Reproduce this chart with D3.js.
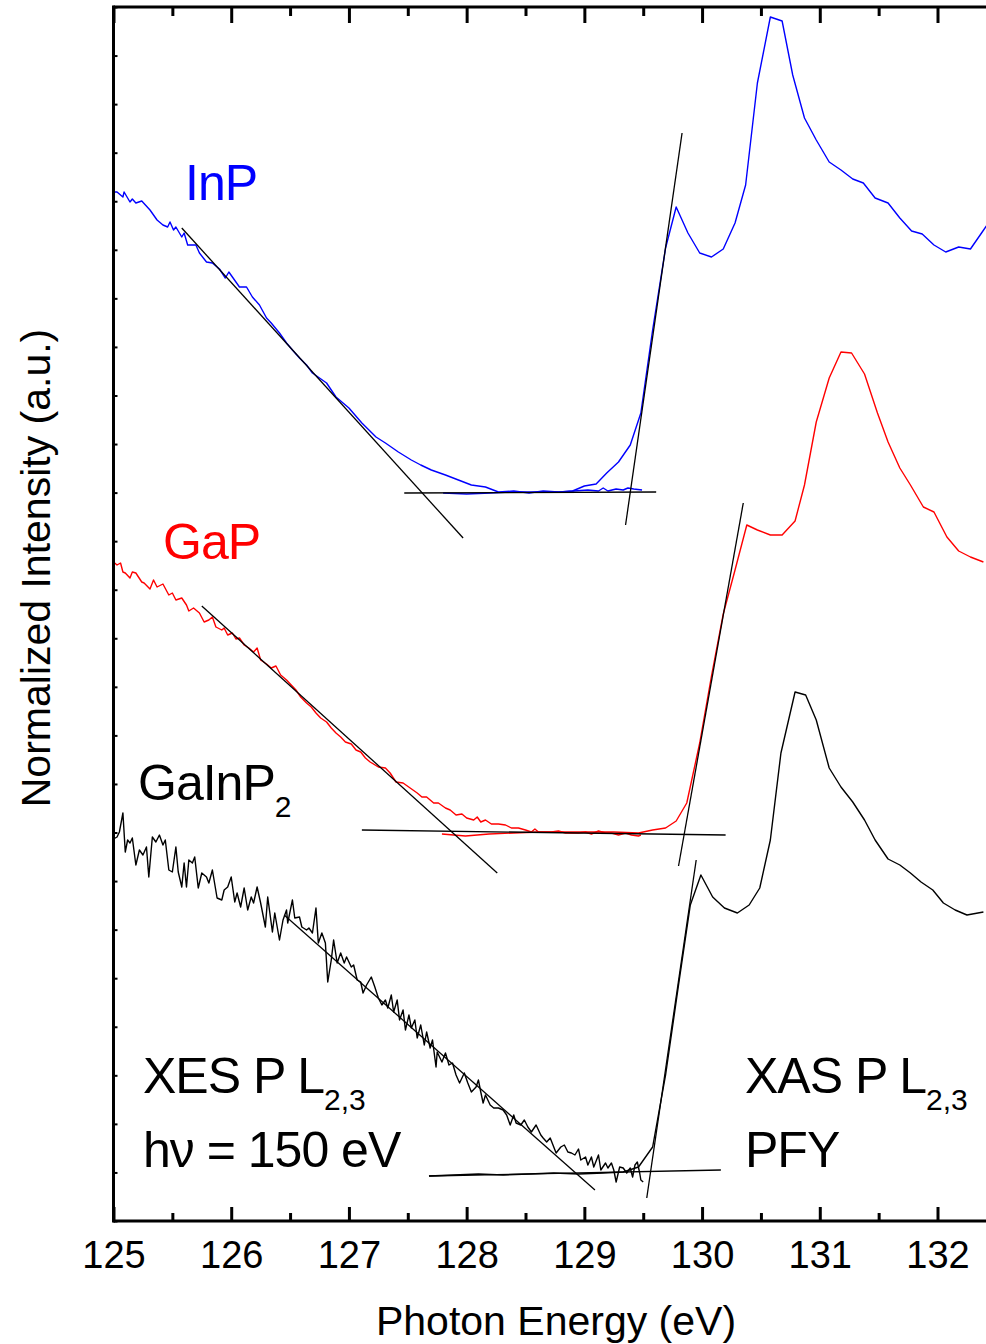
<!DOCTYPE html>
<html>
<head>
<meta charset="utf-8">
<script src="https://cdn.jsdelivr.net/npm/d3@7"></script>
<style>
body { margin: 0; background: #fff; }
text { font-family: "Liberation Sans", Arial, sans-serif; }
</style>
</head>
<body>
<svg width="986" height="1344"></svg>
<script>
// x ticks (eV)
const xMajor = [125, 126, 127, 128, 129, 130, 131, 132]
const xMinor = [125.5, 126.5, 127.5, 128.5, 129.5, 130.5, 131.5, 132.5]
const yMax = 12.14
const yTickCount = 25

// InP, emission (XES) then absorption (XAS PFY)
const inpXes = [
	[125.00,10.29],[125.03,10.29],[125.08,10.24],[125.09,10.29],[125.14,10.19],[125.16,10.22],[125.19,10.18],[125.24,10.20],
	[125.31,10.11],[125.37,10.01],[125.42,9.96],[125.46,9.94],[125.48,9.99],[125.51,9.91],[125.53,9.94],[125.58,9.84],
	[125.60,9.88],[125.63,9.76],[125.70,9.76],[125.73,9.68],[125.79,9.59],[125.84,9.58],[125.90,9.52],[125.95,9.43],
	[125.98,9.49],[126.07,9.34],[126.13,9.34],[126.18,9.24],[126.24,9.16],[126.30,9.03],[126.34,8.98],[126.41,8.88],
	[126.47,8.78],[126.52,8.71],[126.58,8.63],[126.64,8.56],[126.69,8.48],[126.81,8.38],[126.89,8.24],[127.00,8.13],
	[127.11,7.98],[127.17,7.91],[127.23,7.84],[127.31,7.78],[127.42,7.69],[127.53,7.61],[127.61,7.56],[127.70,7.51],
	[127.82,7.46],[127.93,7.41],[128.04,7.36],[128.16,7.34],[128.27,7.29],[128.40,7.30],[128.53,7.28],[128.65,7.30],
	[128.78,7.29],[128.91,7.30],[129.03,7.31],[129.12,7.30],[129.16,7.33],[129.20,7.30],[129.27,7.32],[129.33,7.31],
	[129.37,7.33],[129.42,7.32],[129.49,7.31]
]
const inpXas = [
	[127.80,7.28],[128.00,7.27],[128.20,7.28],[128.40,7.29],[128.60,7.29],[128.80,7.29],[128.90,7.30],[129.00,7.35],
	[129.10,7.37],[129.19,7.48],[129.29,7.59],[129.39,7.76],[129.48,8.08],[129.58,8.91],[129.69,9.73],[129.78,10.14],
	[129.88,9.88],[129.98,9.68],[130.08,9.64],[130.18,9.72],[130.28,9.98],[130.37,10.36],[130.47,11.38],[130.58,12.04],
	[130.68,12.00],[130.77,11.46],[130.87,11.03],[130.97,10.81],[131.08,10.59],[131.18,10.51],[131.28,10.42],[131.37,10.38],
	[131.47,10.23],[131.58,10.18],[131.68,10.03],[131.78,9.90],[131.87,9.87],[131.97,9.76],[132.07,9.69],[132.18,9.74],
	[132.28,9.72],[132.38,9.89],[132.48,10.06]
]
const inpFits = [
	[[125.58,9.93],[127.97,6.83]],
	[[127.47,7.28],[129.61,7.29]],
	[[129.35,6.96],[129.83,10.88]]
]

// GaP
const gapXes = [
	[125.01,6.58],[125.03,6.56],[125.06,6.58],[125.08,6.49],[125.10,6.48],[125.14,6.43],[125.16,6.49],[125.19,6.48],
	[125.24,6.39],[125.26,6.38],[125.31,6.32],[125.34,6.41],[125.37,6.34],[125.42,6.37],[125.47,6.26],[125.50,6.28],
	[125.53,6.21],[125.58,6.23],[125.62,6.16],[125.64,6.10],[125.68,6.13],[125.73,6.08],[125.77,5.99],[125.81,6.01],
	[125.84,6.04],[125.87,5.94],[125.92,5.91],[125.94,5.93],[125.97,5.86],[126.01,5.88],[126.04,5.82],[126.07,5.83],
	[126.11,5.76],[126.15,5.73],[126.19,5.69],[126.22,5.73],[126.25,5.61],[126.30,5.57],[126.34,5.53],[126.38,5.55],
	[126.42,5.46],[126.47,5.41],[126.51,5.36],[126.55,5.31],[126.59,5.24],[126.64,5.18],[126.68,5.14],[126.72,5.08],
	[126.76,5.03],[126.81,4.99],[126.85,4.93],[126.89,4.88],[126.93,4.84],[126.97,4.79],[127.02,4.77],[127.06,4.71],
	[127.10,4.69],[127.14,4.63],[127.18,4.59],[127.25,4.54],[127.31,4.53],[127.35,4.48],[127.40,4.39],[127.46,4.38],
	[127.52,4.33],[127.58,4.28],[127.62,4.24],[127.66,4.24],[127.72,4.18],[127.76,4.18],[127.82,4.13],[127.86,4.11],
	[127.91,4.06],[127.96,4.07],[128.00,4.03],[128.06,4.01],[128.09,4.04],[128.12,3.99],[128.16,4.01],[128.21,3.97],
	[128.27,3.97],[128.33,3.96],[128.38,3.93],[128.44,3.93],[128.50,3.91],[128.55,3.89],[128.58,3.92],[128.61,3.89],
	[128.67,3.89],[128.72,3.89],[128.78,3.90],[128.84,3.88],[128.89,3.88],[128.95,3.88],[129.01,3.89],[129.06,3.87],
	[129.12,3.90],[129.18,3.88],[129.23,3.88],[129.29,3.86],[129.35,3.88],[129.40,3.86],[129.46,3.85],[129.48,3.86]
]
const gapXas = [
	[127.79,3.87],[127.99,3.85],[128.19,3.87],[128.40,3.88],[128.61,3.89],[128.82,3.89],[129.03,3.89],[129.25,3.89],
	[129.46,3.88],[129.58,3.91],[129.69,3.93],[129.78,4.00],[129.87,4.18],[129.98,4.78],[130.08,5.45],[130.18,6.07],
	[130.28,6.51],[130.38,6.96],[130.47,6.91],[130.58,6.86],[130.68,6.86],[130.79,7.00],[130.87,7.36],[130.97,7.99],
	[131.08,8.43],[131.18,8.69],[131.27,8.68],[131.38,8.47],[131.49,8.08],[131.58,7.79],[131.68,7.53],[131.77,7.36],
	[131.88,7.14],[131.97,7.09],[132.08,6.84],[132.18,6.70],[132.28,6.64],[132.39,6.59]
]
const gapFits = [
	[[125.75,6.15],[128.26,3.48]],
	[[127.11,3.91],[130.20,3.86]],
	[[129.80,3.55],[130.35,7.18]]
]

// GaInP2
const gainpXes = [
	[125.00,3.82],[125.03,3.84],[125.05,3.89],[125.08,4.08],[125.10,3.69],[125.12,3.81],[125.14,3.78],[125.16,3.83],
	[125.19,3.56],[125.22,3.71],[125.25,3.66],[125.28,3.74],[125.30,3.44],[125.33,3.84],[125.36,3.79],[125.39,3.86],
	[125.42,3.76],[125.44,3.81],[125.47,3.51],[125.50,3.49],[125.53,3.74],[125.55,3.49],[125.58,3.34],[125.60,3.58],
	[125.62,3.34],[125.64,3.61],[125.67,3.58],[125.69,3.64],[125.72,3.33],[125.75,3.48],[125.79,3.44],[125.81,3.38],
	[125.84,3.51],[125.88,3.23],[125.92,3.21],[125.94,3.31],[125.97,3.34],[126.00,3.44],[126.03,3.19],[126.05,3.28],
	[126.08,3.14],[126.11,3.33],[126.14,3.11],[126.17,3.24],[126.19,3.18],[126.22,3.34],[126.25,3.18],[126.29,2.94],
	[126.31,3.24],[126.35,2.89],[126.37,3.08],[126.41,2.81],[126.44,3.01],[126.47,3.11],[126.48,2.98],[126.52,3.21],
	[126.54,3.03],[126.58,3.04],[126.60,2.94],[126.64,2.91],[126.66,2.93],[126.69,2.88],[126.72,3.13],[126.74,2.78],
	[126.77,2.88],[126.80,2.78],[126.82,2.39],[126.85,2.61],[126.87,2.81],[126.90,2.58],[126.93,2.68],[126.96,2.58],
	[126.98,2.64],[127.02,2.54],[127.04,2.56],[127.07,2.41],[127.10,2.39],[127.12,2.28],[127.15,2.36],[127.19,2.44],
	[127.22,2.34],[127.25,2.23],[127.28,2.16],[127.31,2.21],[127.33,2.13],[127.36,2.26],[127.38,2.09],[127.41,2.21],
	[127.43,2.01],[127.46,2.11],[127.48,1.91],[127.51,2.06],[127.53,1.93],[127.56,2.01],[127.58,1.83],[127.61,1.96],
	[127.64,1.76],[127.66,1.89],[127.69,1.73],[127.71,1.81],
	[127.74,1.54],[127.75,1.69],[127.79,1.59],[127.82,1.68],[127.85,1.56],[127.88,1.58],[127.91,1.46],
	[127.94,1.38],[127.98,1.48],[128.01,1.38],[128.04,1.29],[128.08,1.34],[128.10,1.41],[128.12,1.29],[128.14,1.18],
	[128.16,1.26],[128.20,1.16],[128.23,1.13],[128.27,1.13],[128.31,1.11],[128.34,1.06],[128.37,0.96],[128.40,1.06],
	[128.42,0.98],[128.46,0.96],[128.49,1.01],[128.52,0.94],[128.55,0.89],[128.59,0.96],[128.63,0.86],[128.65,0.83],
	[128.68,0.79],[128.71,0.83],[128.74,0.74],[128.76,0.68],[128.80,0.74],[128.83,0.76],[128.86,0.69],[128.89,0.68],
	[128.92,0.66],[128.95,0.72],[128.97,0.61],[129.01,0.64],[129.03,0.56],[129.06,0.64],[129.08,0.54],[129.12,0.66],
	[129.14,0.51],[129.18,0.58],[129.20,0.53],[129.23,0.58],[129.25,0.51],[129.27,0.39],[129.30,0.54],[129.33,0.53],
	[129.36,0.48],[129.39,0.53],[129.41,0.44],[129.43,0.56],[129.45,0.59],[129.47,0.48],[129.48,0.41],[129.50,0.39]
]
const gainpXas = [
	[127.68,0.45],[127.89,0.46],[128.10,0.47],[128.31,0.46],[128.53,0.47],[128.74,0.48],[128.95,0.47],[129.16,0.48],
	[129.33,0.49],[129.46,0.54],[129.58,0.74],[129.69,1.46],[129.80,2.36],[129.90,3.16],[129.99,3.46],[130.09,3.24],
	[130.19,3.13],[130.30,3.08],[130.40,3.16],[130.49,3.33],[130.58,3.81],[130.67,4.68],[130.79,5.29],[130.88,5.26],
	[130.97,5.01],[131.08,4.53],[131.18,4.34],[131.28,4.19],[131.38,4.01],[131.47,3.81],[131.58,3.62],[131.68,3.56],
	[131.77,3.48],[131.86,3.39],[131.96,3.31],[132.05,3.18],[132.15,3.11],[132.25,3.06],[132.39,3.09]
]
const gainpFits = [
	[[126.45,3.06],[129.09,0.31]],
	[[127.68,0.45],[130.16,0.51]],
	[[129.53,0.23],[129.95,3.61]]
]

const svg = d3.select("svg")
const plot = { left: 113.5, top: 7, bottom: 1221 }

const x = d3.scaleLinear().domain([125, 132]).range([113.5, 937.5])
const y = d3.scaleLinear().domain([0, yMax]).range([plot.bottom, plot.top])

svg.append("defs").append("clipPath").attr("id", "clip")
	.append("rect")
	.attr("x", plot.left).attr("y", plot.top)
	.attr("width", 986 - plot.left).attr("height", plot.bottom - plot.top)

const line = d3.line().x((d) => x(d[0])).y((d) => y(d[1]))
const graph = svg.append("g").attr("clip-path", "url(#clip)")

const series = [
	{ data: inpXes, color: "#0000ff" },
	{ data: inpXas, color: "#0000ff" },
	{ data: gapXes, color: "#ff0000" },
	{ data: gapXas, color: "#ff0000" },
	{ data: gainpXes, color: "#000" },
	{ data: gainpXas, color: "#000" }
]
series.forEach((s) => {
	graph.append("path")
		.attr("d", line(s.data))
		.attr("fill", "none")
		.attr("stroke", s.color)
		.attr("stroke-width", 1.4)
		.attr("stroke-linejoin", "round")
})

;[...inpFits, ...gapFits, ...gainpFits].forEach((f) => {
	graph.append("path")
		.attr("d", line(f))
		.attr("fill", "none")
		.attr("stroke", "#000")
		.attr("stroke-width", 1.3)
})

// axes
const styleAxis = (g, w) => {
	g.select(".domain").attr("stroke-width", 3)
	g.selectAll(".tick line").attr("stroke-width", w)
}

const bottomMajor = svg.append("g")
	.attr("transform", `translate(0, ${plot.bottom})`)
	.call(d3.axisBottom(x).tickValues(xMajor).tickFormat(d3.format("d"))
		.tickSizeInner(-14).tickSizeOuter(0).tickPadding(20))
bottomMajor.call((g) => styleAxis(g, 3))
bottomMajor.select(".domain").attr("d", `M${plot.left},0H986`)
bottomMajor.selectAll(".tick text")
	.attr("font-size", 38)
	.attr("font-family", "Liberation Sans, Arial, sans-serif")
	.attr("fill", "#000")

svg.append("g")
	.attr("transform", `translate(0, ${plot.bottom})`)
	.call(d3.axisBottom(x).tickValues(xMinor).tickSize(-8).tickFormat(""))
	.call((g) => { g.select(".domain").remove(); g.selectAll(".tick line").attr("stroke-width", 3) })

const topMajor = svg.append("g")
	.attr("transform", `translate(0, ${plot.top})`)
	.call(d3.axisTop(x).tickValues(xMajor).tickSizeInner(-16).tickSizeOuter(0).tickFormat(""))
topMajor.call((g) => styleAxis(g, 3))
topMajor.select(".domain").attr("d", `M${plot.left},0H986`)

svg.append("g")
	.attr("transform", `translate(0, ${plot.top})`)
	.call(d3.axisTop(x).tickValues(xMinor).tickSize(-9).tickFormat(""))
	.call((g) => { g.select(".domain").remove(); g.selectAll(".tick line").attr("stroke-width", 3) })

const yTicks = d3.range(yTickCount + 1).map((i) => (i * yMax) / yTickCount)
svg.append("g")
	.attr("transform", `translate(${plot.left}, 0)`)
	.call(d3.axisLeft(y).tickValues(yTicks).tickSizeInner(-4).tickSizeOuter(0).tickFormat(""))
	.call((g) => {
		g.select(".domain").attr("stroke-width", 3).attr("d", `M0,${plot.top - 1.5}V${plot.bottom + 1.5}`)
		g.selectAll(".tick line").attr("stroke-width", 2)
	})

// axis titles
svg.append("text")
	.attr("x", 556).attr("y", 1335)
	.attr("text-anchor", "middle")
	.attr("font-size", 41)
	.text("Photon Energy (eV)")

svg.append("text")
	.attr("transform", "translate(50, 568) rotate(-90)")
	.attr("text-anchor", "middle")
	.attr("font-size", 41)
	.text("Normalized Intensity (a.u.)")

// labels
const label = (xp, yp, txt, color, sub) => {
	const t = svg.append("text")
		.attr("x", xp).attr("y", yp)
		.attr("font-size", 50)
		.attr("letter-spacing", -1)
		.attr("fill", color)
		.text(txt)
	if (sub) {
		t.append("tspan")
			.attr("font-size", 30)
			.attr("letter-spacing", 0)
			.attr("dy", 17)
			.text(sub)
	}
}
label(185, 200, "InP", "#0000ff")
label(163, 559, "GaP", "#ff0000")
label(138, 800, "GaInP", "#000", "2")
label(143, 1093, "XES P L", "#000", "2,3")
label(143, 1167, "h\u03bd = 150 eV", "#000")
label(745, 1093, "XAS P L", "#000", "2,3")
label(745, 1167, "PFY", "#000")
</script>
</body>
</html>
